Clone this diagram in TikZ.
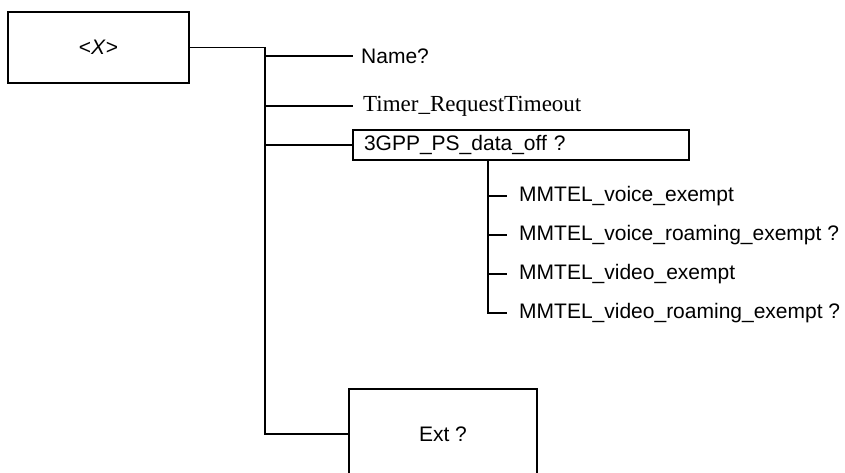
\documentclass[tikz,border=0pt]{standalone}
\usepackage{fontspec}
\setmainfont{Liberation Sans}
\newfontfamily\timesfont{Liberation Serif}

\tikzset{
  box/.style={draw, line width=1.7pt, inner sep=0pt},
  leaf/.style={anchor=west, inner ysep=0pt, inner xsep=8pt},
  wire/.style={line width=1.7pt}
}

\begin{document}
\begin{tikzpicture}[x=1pt,y=-1pt,font=\fontsize{21}{25}\selectfont]
\useasboundingbox (0,0) rectangle (845,473);
\clip (0,0) rectangle (845,473);
\node[box, minimum width=181pt, minimum height=71pt] (root) at (98.5,47.5) {<\textit{X}>};
\node[box, minimum width=188pt, minimum height=90pt] (ext) at (443,434) {Ext ?};
\coordinate (trunk) at (265,0);
\coordinate (sub) at (488,0);
\node[leaf] (name) at (353,56) {Name?};
\node[leaf, inner xsep=10pt] (timer) at (353,106) {\timesfont\fontsize{23}{27}\selectfont Timer\_RequestTimeout};
\node[box, minimum width=336pt, minimum height=30pt, text width=314pt, align=left, inner xsep=11pt] (gpp) at (521,145) {3GPP\_PS\_data\_off ?};
\node[leaf, inner xsep=12pt] (vox) at (507,196) {MMTEL\_voice\_exempt};
\node[leaf, inner xsep=12pt] (vor) at (507,235) {MMTEL\_voice\_roaming\_exempt ?};
\node[leaf, inner xsep=12pt] (vix) at (507,274) {MMTEL\_video\_exempt};
\node[leaf, inner xsep=12pt] (vir) at (507,313) {MMTEL\_video\_roaming\_exempt ?};
% tree lines
\draw[wire] (root.east) -| (trunk |- ext.west) -- (ext.west);
\draw[wire] (trunk |- name.west) -- (name.west);
\draw[wire] (trunk |- timer.west) -- (timer.west);
\draw[wire] (trunk |- gpp.west) -- (gpp.west);
\draw[wire] (sub |- gpp.south) |- (vir.west);
\draw[wire] (sub |- vox.west) -- (vox.west);
\draw[wire] (sub |- vor.west) -- (vor.west);
\draw[wire] (sub |- vix.west) -- (vix.west);
\end{tikzpicture}
\end{document}
